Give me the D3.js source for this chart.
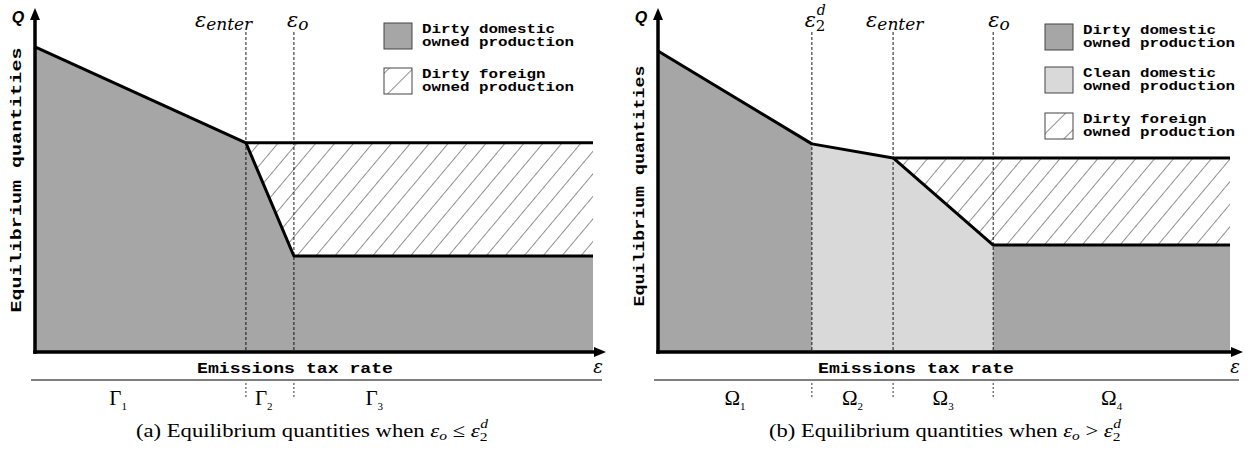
<!DOCTYPE html>
<html>
<head>
<meta charset="utf-8">
<script src="https://cdn.jsdelivr.net/npm/d3@7"></script>
<style>
  body { margin: 0; background: #fff; }
  svg { display: block; }
  .mono { font-family: "Liberation Mono", "DejaVu Sans Mono", monospace; font-weight: bold; }
  .serif { font-family: "Liberation Serif", "DejaVu Serif", serif; }
  .math { font-family: "DejaVu Serif", "Liberation Serif", serif; font-style: italic; }
</style>
</head>
<body>
<svg id="chart" width="1258" height="452"></svg>
<script>
// ---- data: tax rate (e) and quantity (q) in arbitrary units 0..10 ----

// panel (a)
const cutsA = [
  { sub: 'enter', e: 3.78, dx: -51 },
  { sub: 'o', e: 4.64, dx: -7 }
];
const domesticA = [
  { e: 0, q: 8.87 }, { e: 3.78, q: 6.08 }, { e: 4.64, q: 2.79 }, { e: 10, q: 2.79 }
];
const totalA = 6.08;        // dirty domestic + foreign after entry
const fillsA = [{ from: 0, to: 10, kind: 'dirty' }];
const regionsA = [
  { sym: 'Γ', sub: '1', e: 1.49 },
  { sym: 'Γ', sub: '2', e: 4.1 },
  { sym: 'Γ', sub: '3', e: 6.08 }
];
const legendA = [
  { kind: 'dirty', lines: ['Dirty domestic', 'owned production'] },
  { kind: 'foreign', lines: ['Dirty foreign', 'owned production'] }
];

// panel (b)
const cutsB = [
  { sub: '2', sup: 'd', e: 2.69, dx: -7 },
  { sub: 'enter', e: 4.11, dx: -27 },
  { sub: 'o', e: 5.86, dx: -5 }
];
const domesticB = [
  { e: 0, q: 8.75 }, { e: 2.69, q: 6.05 }, { e: 4.11, q: 5.64 }, { e: 5.86, q: 3.11 }, { e: 10, q: 3.11 }
];
const totalB = 5.64;
const fillsB = [
  { from: 0, to: 2.69, kind: 'dirty' },
  { from: 2.69, to: 5.86, kind: 'clean' },
  { from: 5.86, to: 10, kind: 'dirty' }
];
const regionsB = [
  { sym: 'Ω', sub: '1' }, { sym: 'Ω', sub: '2' }, { sym: 'Ω', sub: '3' }, { sym: 'Ω', sub: '4' }
];
const legendB = [
  { kind: 'dirty', lines: ['Dirty domestic', 'owned production'] },
  { kind: 'clean', lines: ['Clean domestic', 'owned production'] },
  { kind: 'foreign', lines: ['Dirty foreign', 'owned production'] }
];

const colors = { dirty: '#a6a6a6', clean: '#d9d9d9', foreign: 'url(#hatch)' };

const panels = [
  { x0: 35, x1: 593, axisEnd: 606, cuts: cutsA, domestic: domesticA, total: totalA,
    fills: fillsA, regions: regionsA, legend: legendA, legendX: 384, legendTops: [23, 68],
    yLabelLen: 265, yLabelY: 180, xLabelX: 295, captionX: 312,
    caption: ['(a) Equilibrium quantities when ', '≤'] },
  { x0: 658, x1: 1230, axisEnd: 1243, cuts: cutsB, domestic: domesticB, total: totalB,
    fills: fillsB, regions: regionsB, legend: legendB, legendX: 1045, legendTops: [24, 67, 113],
    yLabelLen: 241, yLabelY: 186, xLabelX: 916, captionX: 945,
    caption: ['(b) Equilibrium quantities when ', '>'] }
];

const svg = d3.select('#chart');
const defs = svg.append('defs');

function addHatch(id, gap, angle, width) {
  defs.append('pattern')
    .attr('id', id)
    .attr('patternUnits', 'userSpaceOnUse')
    .attr('width', gap).attr('height', gap)
    .attr('patternTransform', `rotate(${angle})`)
    .append('line')
    .attr('x1', 0).attr('y1', 0).attr('x2', 0).attr('y2', gap)
    .attr('stroke', '#222').attr('stroke-width', width);
}
addHatch('hatch', 14.5, 40, 1);
addHatch('hatch-small', 17, 45, 1);

defs.append('marker')
  .attr('id', 'arrow')
  .attr('markerUnits', 'userSpaceOnUse')
  .attr('viewBox', '0 0 12 10')
  .attr('markerWidth', 12).attr('markerHeight', 10)
  .attr('refX', 2).attr('refY', 5)
  .attr('orient', 'auto')
  .append('path').attr('d', 'M0,0L12,5L0,10Z').attr('fill', '#000');

const yBottom = 352;
const y = d3.scaleLinear().domain([0, 10]).range([yBottom, 8]);

panels.forEach(p => {
  const x = d3.scaleLinear().domain([0, 10]).range([p.x0, p.x1]);
  const g = svg.append('g');

  // production fills under the domestic curve
  const area = d3.area().x(d => x(d.e)).y0(yBottom).y1(d => y(d.q));
  p.fills.forEach(f => {
    const pts = p.domestic.filter(d => d.e >= f.from && d.e <= f.to);
    g.append('path').attr('d', area(pts)).attr('fill', colors[f.kind]);
  });

  // foreign owned production: between domestic curve and total
  const enter = p.cuts.find(c => c.sub === 'enter').e;
  const fpts = p.domestic.filter(d => d.e >= enter);
  g.append('path')
    .attr('d', d3.area().x(d => x(d.e)).y0(d => y(d.q)).y1(y(p.total))(fpts))
    .attr('fill', 'url(#hatch)');

  // threshold dashed lines
  g.selectAll('.cut').data(p.cuts).join('line')
    .attr('x1', d => x(d.e)).attr('x2', d => x(d.e))
    .attr('y1', 32).attr('y2', yBottom)
    .attr('stroke', '#000').attr('stroke-width', 0.9).attr('stroke-dasharray', '3,2');

  // outlines
  const line = d3.line().x(d => x(d.e)).y(d => y(d.q));
  g.append('path').attr('d', line(p.domestic))
    .attr('fill', 'none').attr('stroke', '#000').attr('stroke-width', 3).attr('stroke-linejoin', 'round');
  g.append('path').attr('d', line([{ e: enter, q: p.total }, { e: 10, q: p.total }]))
    .attr('fill', 'none').attr('stroke', '#000').attr('stroke-width', 3);

  // axes
  g.append('line').attr('x1', p.x0).attr('x2', p.x0).attr('y1', yBottom + 1.75).attr('y2', 18)
    .attr('stroke', '#000').attr('stroke-width', 3.5).attr('marker-end', 'url(#arrow)');
  g.append('line').attr('x1', p.x0 - 1.75).attr('x2', p.axisEnd - 10).attr('y1', yBottom).attr('y2', yBottom)
    .attr('stroke', '#000').attr('stroke-width', 3.5).attr('marker-end', 'url(#arrow)');

  g.append('text').attr('x', p.x0 - 17).attr('y', 23).attr('text-anchor', 'middle')
    .style('font-family', '"Liberation Sans", Arial, sans-serif')
    .style('font-weight', 'bold').style('font-style', 'italic').style('font-size', '16px')
    .text('Q');

  g.append('text').attr('class', 'math').attr('x', p.axisEnd - 8).attr('y', 373)
    .attr('text-anchor', 'middle').style('font-size', '18px').text('ε');

  g.append('text').attr('class', 'mono')
    .attr('transform', `translate(${p.x0 - 19},${p.yLabelY}) rotate(-90)`)
    .attr('text-anchor', 'middle').attr('dy', '0.35em').style('font-size', '15px')
    .attr('textLength', p.yLabelLen).attr('lengthAdjust', 'spacingAndGlyphs')
    .text('Equilibrium quantities');

  g.append('text').attr('class', 'mono').attr('x', p.xLabelX).attr('y', 373)
    .attr('text-anchor', 'middle').style('font-size', '15px')
    .attr('textLength', 196).attr('lengthAdjust', 'spacingAndGlyphs')
    .text('Emissions tax rate');

  // threshold labels
  p.cuts.forEach(c => {
    const t = g.append('text').attr('class', 'math').attr('x', x(c.e) + c.dx).attr('y', 27)
      .style('font-size', '21px');
    t.append('tspan').text('ε');
    if (c.sup) {
      g.append('text').attr('class', 'math').attr('x', x(c.e) + c.dx + 12).attr('y', 15)
        .style('font-size', '14px').text(c.sup);
      g.append('text').attr('class', 'math').attr('x', x(c.e) + c.dx + 11).attr('y', 31)
        .style('font-size', '15px').style('font-style', 'normal').text(c.sub);
    } else {
      t.append('tspan').attr('dy', 3).style('font-size', '17px').text(c.sub);
    }
  });

  // region row
  g.append('line').attr('x1', p.x0 - 4).attr('x2', p.axisEnd - 4).attr('y1', 380).attr('y2', 380)
    .attr('stroke', '#000').attr('stroke-width', 1.2);
  g.selectAll('.tick').data(p.cuts).join('line')
    .attr('x1', d => x(d.e)).attr('x2', d => x(d.e)).attr('y1', 383).attr('y2', 399)
    .attr('stroke', '#000').attr('stroke-width', 0.8).attr('stroke-dasharray', '2,2');
  const bounds = [0, ...p.cuts.map(c => c.e), 10];
  p.regions.forEach((r, i) => {
    const ex = r.e !== undefined ? r.e : (bounds[i] + bounds[i + 1]) / 2;
    const t = g.append('text').attr('class', 'serif').attr('x', x(ex)).attr('y', 405)
      .attr('text-anchor', 'middle').style('font-size', '21px');
    t.append('tspan').text(r.sym);
    t.append('tspan').attr('dy', 5).style('font-size', '11px').text(r.sub);
  });

  // caption
  const cap = g.append('text').attr('class', 'serif').attr('x', p.captionX).attr('y', 437)
    .attr('text-anchor', 'middle').style('font-size', '19px')
    .attr('textLength', 352).attr('lengthAdjust', 'spacingAndGlyphs');
  cap.append('tspan').text(p.caption[0]);
  cap.append('tspan').style('font-style', 'italic').text('ε');
  cap.append('tspan').attr('dy', 3).style('font-size', '13px').style('font-style', 'italic').text('o');
  cap.append('tspan').attr('dy', -3).text(' ' + p.caption[1] + ' ');
  cap.append('tspan').style('font-style', 'italic').text('ε');
  cap.append('tspan').attr('dy', 4).style('font-size', '13px').text('2');
  cap.append('tspan').attr('dx', -6).attr('dy', -13).style('font-size', '13px').style('font-style', 'italic').text('d');

  // legend
  p.legend.forEach((item, i) => {
    const top = p.legendTops[i];
    g.append('rect').attr('x', p.legendX).attr('y', top).attr('width', 28).attr('height', 26)
      .attr('fill', item.kind === 'foreign' ? 'url(#hatch-small)' : colors[item.kind])
      .attr('stroke', '#444').attr('stroke-width', 1);
    item.lines.forEach((ln, j) => {
      g.append('text').attr('class', 'mono').attr('x', p.legendX + 38).attr('y', top + 10 + j * 13)
        .style('font-size', '12px')
        .attr('textLength', ln.length * 9.5).attr('lengthAdjust', 'spacingAndGlyphs')
        .text(ln);
    });
  });
});
</script>
</body>
</html>
